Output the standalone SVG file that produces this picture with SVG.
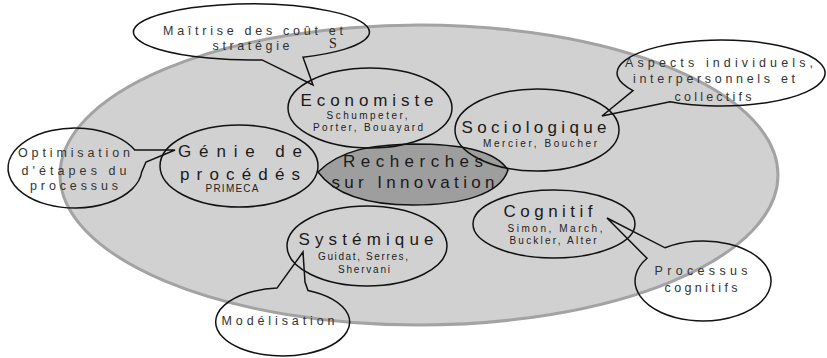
<svg xmlns="http://www.w3.org/2000/svg" width="827" height="358" viewBox="0 0 827 358">
<style>
.bg{fill:#d1d1d1;stroke:#a3a3a3;stroke-width:3}
.node{fill:none;stroke:#111;stroke-width:1.5}
.core{fill:#9e9e9e;stroke:#111;stroke-width:1.5}
.call{fill:none;stroke:#111;stroke-width:1.5;stroke-linejoin:miter}
text{font-family:"Liberation Sans",Arial,sans-serif;text-anchor:middle}
.t{font-size:17px;fill:#1a1a1a}
.s{font-size:10px;fill:#222}
.c{font-size:12.5px;fill:#333}
</style>
<rect width="827" height="358" fill="#fff"/>
<ellipse class="bg" cx="419" cy="175" rx="359" ry="150"/>

<g id="recherches">
<path class="core" d="M318,172 C340,150 370,145 413,144 C460,144 495,150 508,170 C500,195 460,205 413,205 C370,205 335,195 318,172 Z"/>
<text class="t" x="413" y="167" textLength="140" lengthAdjust="spacing">Recherches</text>
<text class="t" x="413" y="188" textLength="163" lengthAdjust="spacing">sur Innovation</text>
</g>

<g id="economiste">
<ellipse class="node" cx="370" cy="108" rx="82" ry="40"/>
<text class="t" x="367" y="106" textLength="133" lengthAdjust="spacing">Economiste</text>
<text class="s" x="367" y="119" textLength="81" lengthAdjust="spacing">Schumpeter,</text>
<text class="s" x="368" y="131" textLength="110" lengthAdjust="spacing">Porter, Bouayard</text>
</g>

<g id="sociologique">
<ellipse class="node" cx="537" cy="130" rx="82" ry="41"/>
<text class="t" x="534" y="133" textLength="145" lengthAdjust="spacing">Sociologique</text>
<text class="s" x="540" y="147" textLength="114" lengthAdjust="spacing">Mercier, Boucher</text>
</g>

<g id="genie">
<ellipse class="node" cx="239" cy="166" rx="79" ry="41"/>
<text class="t" x="240" y="157" textLength="124" lengthAdjust="spacing">Génie de</text>
<text class="t" x="240" y="180" textLength="120" lengthAdjust="spacing">procédés</text>
<text class="s" x="232" y="192" textLength="53" lengthAdjust="spacing">PRIMECA</text>
</g>

<g id="cognitif">
<ellipse class="node" cx="554" cy="224" rx="81" ry="34"/>
<text class="t" x="548" y="217" textLength="89" lengthAdjust="spacing">Cognitif</text>
<text class="s" x="555" y="232" textLength="95" lengthAdjust="spacing">Simon, March,</text>
<text class="s" x="553" y="244" textLength="87" lengthAdjust="spacing">Buckler, Alter</text>
</g>

<g id="systemique">
<ellipse class="node" cx="367" cy="246" rx="80" ry="40"/>
<text class="t" x="366" y="245" textLength="135" lengthAdjust="spacing">Systémique</text>
<text class="s" x="363" y="260" textLength="90" lengthAdjust="spacing">Guidat, Serres,</text>
<text class="s" x="364" y="273" textLength="52" lengthAdjust="spacing">Shervani</text>
</g>

<g id="connectors">
<g id="callout-maitrise">
<path class="call" d="M262,59.9 A118,28 0 1 1 303,57.2 L313,85 Z"/>
<text class="c" x="253" y="35" textLength="180" lengthAdjust="spacing">Maîtrise des coût et</text>
<text class="c" x="251" y="50" textLength="77" lengthAdjust="spacing">stratégie</text>
<text x="333" y="48" style="font-family:'Liberation Serif',serif;font-size:14px;fill:#222">S</text>
</g>
<g id="callout-aspects">
<path class="call" d="M633,90.6 A104,33 0 1 1 670,101.8 L602,116 Z"/>
<text class="c" x="719" y="67" textLength="188" lengthAdjust="spacing">Aspects individuels,</text>
<text class="c" x="714" y="83" textLength="162" lengthAdjust="spacing">interpersonnels et</text>
<text class="c" x="713" y="101" textLength="77" lengthAdjust="spacing">collectifs</text>
</g>
<g id="callout-optimisation">
<path class="call" d="M141.7,172 A67,40 0 1 1 134.8,150 L175,150 L146,162 Z"/>
<text class="c" x="74" y="157" textLength="112" lengthAdjust="spacing">Optimisation</text>
<text class="c" x="74" y="175" textLength="105" lengthAdjust="spacing">d'étapes du</text>
<text class="c" x="74" y="190" textLength="88" lengthAdjust="spacing">processus</text>
</g>
<g id="callout-modelisation">
<path class="call" d="M308,290.5 A67,34 0 1 1 277,288.1 L303,252 L305,282 Z"/>
<text class="c" x="278" y="325" textLength="113" lengthAdjust="spacing">Modélisation</text>
</g>
<g id="callout-processus">
<path class="call" d="M665,247.8 A68,40 0 1 1 647,258.3 L607,218 Z"/>
<text class="c" x="701" y="275" textLength="93" lengthAdjust="spacing">Processus</text>
<text class="c" x="701" y="292" textLength="73" lengthAdjust="spacing">cognitifs</text>
</g>
</g>
</svg>
